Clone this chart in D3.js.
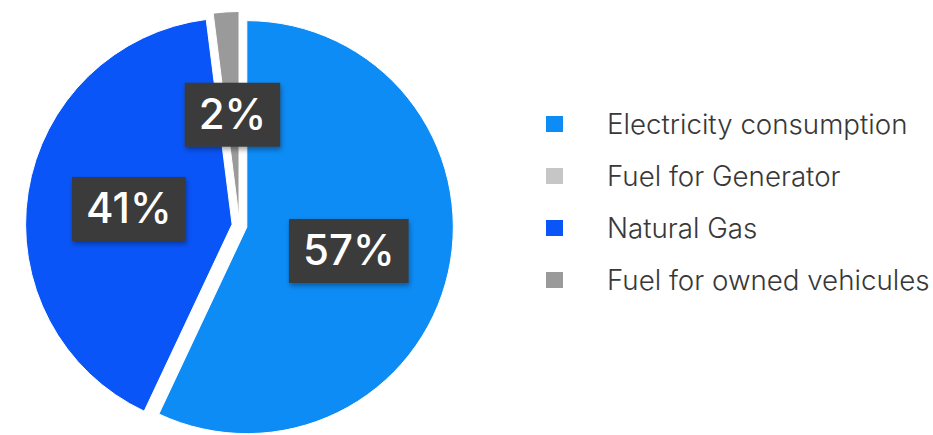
<!DOCTYPE html>
<html>
<head>
<meta charset="utf-8">
<script src="https://cdn.jsdelivr.net/npm/d3@7/dist/d3.min.js"></script>
<style>
  html, body { margin: 0; padding: 0; background: #ffffff; }
  svg { display: block; }
</style>
</head>
<body>
<svg id="chart" width="933" height="435"></svg>
<script>
// Emission sources and their share of the total (percent)
const categories = ["Electricity consumption", "Fuel for Generator", "Natural Gas", "Fuel for owned vehicules"];
const values = [57, 0, 41, 2];
const colors = ["#0d8cf6", "#c6c6c6", "#0a55f7", "#9a9a9a"];
const percentLabels = ["57%", "", "41%", "2%"];

const data = categories.map((c, i) => ({ name: c, value: values[i], color: colors[i], label: percentLabels[i] }));

const svg = d3.select("#chart");

const cx = 239.5, cy = 225.5;
const radius = 206.5;
const explode = 7.5;
const labelRadius = 112;

const defs = svg.append("defs");
const shadow = defs.append("filter").attr("id", "boxShadow")
  .attr("x", "-20%").attr("y", "-20%").attr("width", "140%").attr("height", "150%");
shadow.append("feDropShadow")
  .attr("dx", 1).attr("dy", 3).attr("stdDeviation", 2.5)
  .attr("flood-color", "#000").attr("flood-opacity", 0.35);

const pie = d3.pie().value(d => d.value).sort(null);
const arcs = pie(data);
const arc = d3.arc().innerRadius(0).outerRadius(radius);

const g = svg.append("g").attr("transform", `translate(${cx},${cy})`);

// direction of a slice's middle, measured clockwise from 12 o'clock
function midDir(d) {
  const a = (d.startAngle + d.endAngle) / 2;
  return [Math.sin(a), -Math.cos(a)];
}

// exploded slices
g.selectAll("path.slice")
  .data(arcs.filter(d => d.value > 0))
  .join("path")
  .attr("class", "slice")
  .attr("transform", d => {
    const [dx, dy] = midDir(d);
    return `translate(${dx * explode},${dy * explode})`;
  })
  .attr("d", arc)
  .attr("fill", d => d.data.color)
  .attr("stroke", "#ffffff")
  .attr("stroke-width", 1);

// percentage labels in dark boxes
const labels = g.selectAll("g.lbl")
  .data(arcs.filter(d => d.data.label))
  .join("g")
  .attr("class", "lbl")
  .attr("transform", d => {
    const [dx, dy] = midDir(d);
    return `translate(${dx * labelRadius},${dy * labelRadius})`;
  });

labels.append("rect")
  .attr("fill", "#3a3a3a")
  .attr("filter", "url(#boxShadow)");

const texts = labels.append("text")
  .attr("text-anchor", "middle")
  .attr("dy", "0.36em")
  .attr("fill", "#ffffff")
  .style("font-family", "Inter, 'Noto Sans', sans-serif")
  .style("font-weight", 500)
  .style("font-size", "42px")
  .text(d => d.data.label);

texts.each(function() {
  const w = this.getComputedTextLength();
  const padX = 14, h = 64;
  d3.select(this.parentNode).select("rect")
    .attr("x", -w / 2 - padX)
    .attr("y", -h / 2 + 1)
    .attr("width", w + padX * 2)
    .attr("height", h);
});

// legend
const legendX = 546, legendTextX = 607, legendY0 = 124, legendStep = 52;
const items = svg.append("g").selectAll("g.item")
  .data(data)
  .join("g")
  .attr("class", "item")
  .attr("transform", (d, i) => `translate(0,${legendY0 + i * legendStep})`);

items.append("rect")
  .attr("x", legendX)
  .attr("y", -8)
  .attr("width", 17)
  .attr("height", 16)
  .attr("fill", d => d.color);

items.append("text")
  .attr("x", legendTextX)
  .attr("dy", "0.36em")
  .attr("fill", "#383838")
  .style("font-family", "Inter, 'Noto Sans', sans-serif")
  .style("font-weight", 300)
  .style("font-size", "27.7px")
  .text(d => d.name);
</script>
</body>
</html>
